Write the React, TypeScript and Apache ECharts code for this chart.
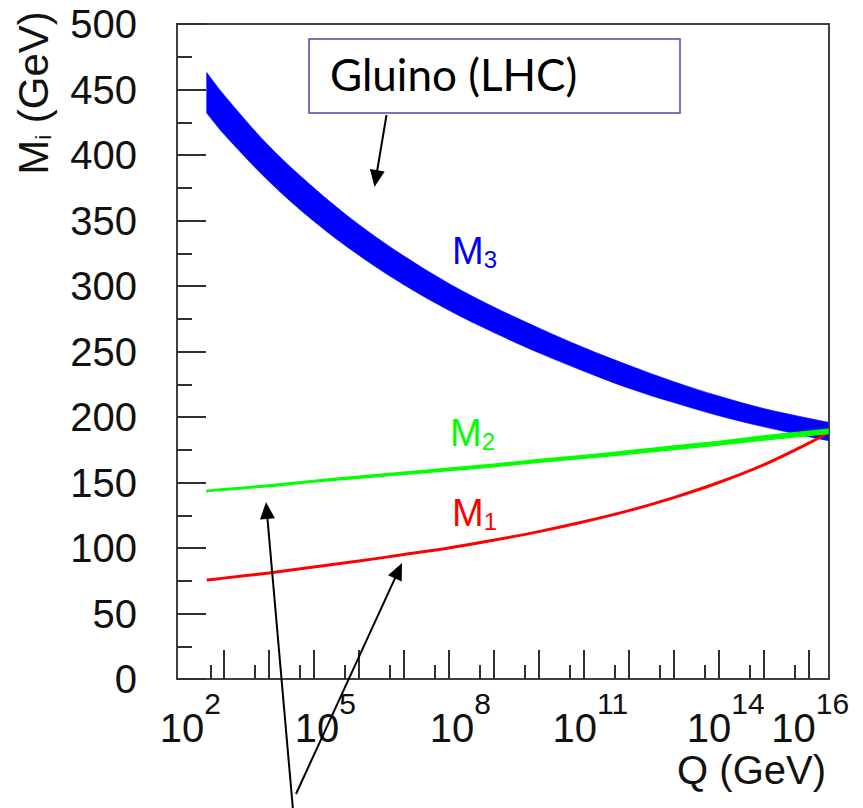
import React, { useEffect, useRef } from "react";
import * as echarts from "echarts";

// log10(Q / GeV) sample positions
const qExp = [2.62, 3, 4, 5, 6, 7, 8, 9, 10, 11, 12, 13, 14, 15, 16, 16.43];
// gluino mass parameter M3 band (GeV)
const m3High = [463, 446, 407, 375, 347, 323, 302, 284, 268, 253, 239.5, 227, 216, 206.5, 199, 196];
const m3Low = [432, 416, 380, 349.5, 323.5, 301, 281.5, 264.5, 249, 235, 222, 211, 201, 192.5, 185, 182];
// wino M2 band (GeV)
const m2Low = [142.9, 144.1, 146.8, 150.3, 153.2, 156.1, 159, 162, 165.4, 168.3, 171.7, 175.1, 178.5, 182.4, 185.8, 187.2];
const m2High = [144.1, 145.3, 148.2, 151.7, 154.8, 157.9, 161, 164, 167.6, 170.7, 174.3, 177.9, 181.5, 185.6, 189.2, 190.8];
// bino M1 (GeV)
const m1 = [75.5, 77, 81, 85.5, 90, 95, 100, 106, 112.5, 120, 128.5, 138.5, 150, 163.5, 180, 188];

// axis ticks / labels
const xMajorTicks = [3, 4, 5, 6, 7, 8, 9, 10, 11, 12, 13, 14, 15, 16];
const xMinorTicks = [2.699, 3.699, 4.699, 5.699, 6.699, 7.699, 8.699, 9.699, 10.699, 11.699, 12.699, 13.699, 14.699, 15.699];
const xLabelExps = [2, 5, 8, 11, 14, 16];

const FONT = "'Liberation Sans', Arial, Helvetica, sans-serif";

function arrowGraphics(x1: number, y1: number, x2: number, y2: number) {
  const dx = x2 - x1;
  const dy = y2 - y1;
  const len = Math.sqrt(dx * dx + dy * dy);
  const ux = dx / len;
  const uy = dy / len;
  const hl = 17;
  const hw = 7.5;
  const bx = x2 - ux * hl;
  const by = y2 - uy * hl;
  return [
    {
      type: "line",
      shape: { x1, y1, x2: bx + ux * 2, y2: by + uy * 2 },
      style: { stroke: "#000", lineWidth: 2 },
      z: 100,
    },
    {
      type: "polygon",
      shape: {
        points: [
          [x2, y2],
          [bx - uy * hw, by + ux * hw],
          [bx + uy * hw, by - ux * hw],
        ],
      },
      style: { fill: "#000" },
      z: 100,
    },
  ];
}

// a filled band between two curves, drawn as one smoothed polygon
function bandSeries(name: string, low: number[], high: number[], color: string, strokeW: number, z: number) {
  return {
    type: "custom",
    name,
    xAxisIndex: 0,
    yAxisIndex: 0,
    clip: true,
    silent: true,
    z,
    data: qExp.map((q, i) => [q, low[i], high[i]]),
    encode: { x: 0, y: [1, 2] },
    renderItem: (params: any, api: any) => {
      if (params.dataIndex !== 0) return null;
      const n = qExp.length;
      const pts: number[][] = [];
      for (let i = 0; i < n; i++) {
        const p = api.coord([qExp[i], high[i]]);
        pts.push(p);
        if (i === 0 || i === n - 1) pts.push([p[0], p[1]]);
      }
      for (let i = n - 1; i >= 0; i--) {
        const p = api.coord([qExp[i], low[i]]);
        pts.push(p);
        if (i === 0 || i === n - 1) pts.push([p[0], p[1]]);
      }
      return {
        type: "polygon",
        shape: { points: pts, smooth: 0.35 },
        style: { fill: color, stroke: color, lineWidth: strokeW },
      };
    },
  };
}

export default function App() {
  const ref = useRef<HTMLDivElement>(null);

  useEffect(() => {
    document.body.style.margin = "0";
    if (!ref.current) return;
    const chart = echarts.init(ref.current, undefined, { renderer: "svg" });

    const padFor: Record<number, string> = { 2: "pa", 5: "pa", 8: "pa", 11: "pb", 14: "pc", 16: "pd" };

    const option: any = {
      animation: false,
      backgroundColor: "#ffffff",
      grid: {
        left: 177,
        right: 34,
        top: 24,
        bottom: 129,
        show: true,
        borderColor: "#404040",
        borderWidth: 2,
        backgroundColor: "transparent",
        containLabel: false,
      },
      xAxis: [
        {
          type: "value",
          min: 1.96,
          max: 16.45,
          position: "bottom",
          axisLine: { show: false },
          splitLine: { show: false },
          axisTick: {
            show: true,
            inside: true,
            length: 29,
            customValues: xMajorTicks,
            lineStyle: { color: "#303030", width: 2 },
          },
          axisLabel: {
            show: true,
            customValues: xLabelExps,
            margin: 9,
            formatter: (v: number) => {
              const e = Math.round(v);
              return `{${padFor[e]}| }{b|10}{s|${e}}`;
            },
            rich: {
              pa: { width: 23, lineHeight: 60, fontSize: 10 },
              pb: { width: 13, lineHeight: 60, fontSize: 10 },
              pc: { width: 14, lineHeight: 60, fontSize: 10 },
              pd: { width: 3, lineHeight: 60, fontSize: 10 },
              b: { fontSize: 40, lineHeight: 40, verticalAlign: "bottom", fontFamily: FONT, color: "#111" },
              s: { fontSize: 30, lineHeight: 30, verticalAlign: "top", fontFamily: FONT, color: "#111" },
            },
          },
        },
        {
          type: "value",
          min: 1.96,
          max: 16.45,
          position: "bottom",
          axisLine: { show: false },
          splitLine: { show: false },
          axisLabel: { show: false },
          axisTick: {
            show: true,
            inside: true,
            length: 14,
            customValues: xMinorTicks,
            lineStyle: { color: "#303030", width: 2 },
          },
        },
      ],
      yAxis: {
        type: "value",
        min: 0,
        max: 500,
        interval: 50,
        axisLine: { show: false },
        splitLine: { show: false },
        axisTick: { show: true, inside: true, length: 29, lineStyle: { color: "#303030", width: 2 } },
        minorTick: { show: true, splitNumber: 2, length: 15, lineStyle: { color: "#303030", width: 2 } },
        axisLabel: { margin: 40, fontSize: 40, fontFamily: FONT, color: "#111" },
      },
      series: [
        bandSeries("M3", m3Low, m3High, "#0000ff", 0.6, 2),
        {
          type: "line",
          name: "M1",
          data: qExp.map((q, i) => [q, m1[i]]),
          showSymbol: false,
          smooth: 0.35,
          lineStyle: { color: "#ff0000", width: 3 },
          silent: true,
          z: 3,
        },
        bandSeries("M2", m2Low, m2High, "#00ff00", 1.2, 4),
      ],
      graphic: [
        {
          type: "text",
          x: 33,
          y: 93,
          rotation: Math.PI / 2,
          style: {
            text: "{m|M}{i|i}{m| (GeV)}",
            align: "center",
            verticalAlign: "middle",
            rich: {
              m: { fontSize: 42, fontFamily: FONT, fill: "#111", lineHeight: 46, verticalAlign: "middle" },
              i: { fontSize: 22, fontFamily: FONT, fill: "#111", lineHeight: 46, verticalAlign: "bottom", padding: [0, 0, 2, 0] },
            },
          },
        },
        {
          type: "text",
          x: 826,
          y: 770,
          style: {
            text: "Q (GeV)",
            align: "right",
            verticalAlign: "middle",
            fontSize: 40,
            fontFamily: FONT,
            fill: "#111",
          },
        },
        {
          type: "rect",
          shape: { x: 309, y: 39, width: 371, height: 74 },
          style: { fill: "#ffffff", stroke: "#4a4aa8", lineWidth: 1.5 },
          z: 90,
        },
        {
          type: "text",
          x: 330,
          y: 74,
          style: {
            text: "Gluino (LHC)",
            align: "left",
            verticalAlign: "middle",
            fontSize: 44,
            fontFamily: "'Comic Sans MS', Lato, sans-serif",
            fill: "#000",
          },
          z: 91,
        },
        {
          type: "text",
          x: 452,
          y: 251,
          style: {
            text: "{m|M}{s|3}",
            verticalAlign: "middle",
            rich: {
              m: { fontSize: 38, fontFamily: FONT, fill: "#0000ff", lineHeight: 40, verticalAlign: "middle" },
              s: { fontSize: 24, fontFamily: FONT, fill: "#0000ff", lineHeight: 40, verticalAlign: "bottom" },
            },
          },
          z: 95,
        },
        {
          type: "text",
          x: 450,
          y: 433,
          style: {
            text: "{m|M}{s|2}",
            verticalAlign: "middle",
            rich: {
              m: { fontSize: 38, fontFamily: FONT, fill: "#00ff00", lineHeight: 40, verticalAlign: "middle" },
              s: { fontSize: 24, fontFamily: FONT, fill: "#00ff00", lineHeight: 40, verticalAlign: "bottom" },
            },
          },
          z: 95,
        },
        {
          type: "text",
          x: 452,
          y: 513,
          style: {
            text: "{m|M}{s|1}",
            verticalAlign: "middle",
            rich: {
              m: { fontSize: 38, fontFamily: FONT, fill: "#ff0000", lineHeight: 40, verticalAlign: "middle" },
              s: { fontSize: 24, fontFamily: FONT, fill: "#ff0000", lineHeight: 40, verticalAlign: "bottom" },
            },
          },
          z: 95,
        },
        ...arrowGraphics(386.5, 115, 374.5, 187),
        ...arrowGraphics(293, 810, 266, 502),
        ...arrowGraphics(296, 794, 402, 563),
      ],
    };

    chart.setOption(option);
    return () => {
      chart.dispose();
    };
  }, []);

  return <div ref={ref} style={{ width: 863, height: 808 }} />;
}
